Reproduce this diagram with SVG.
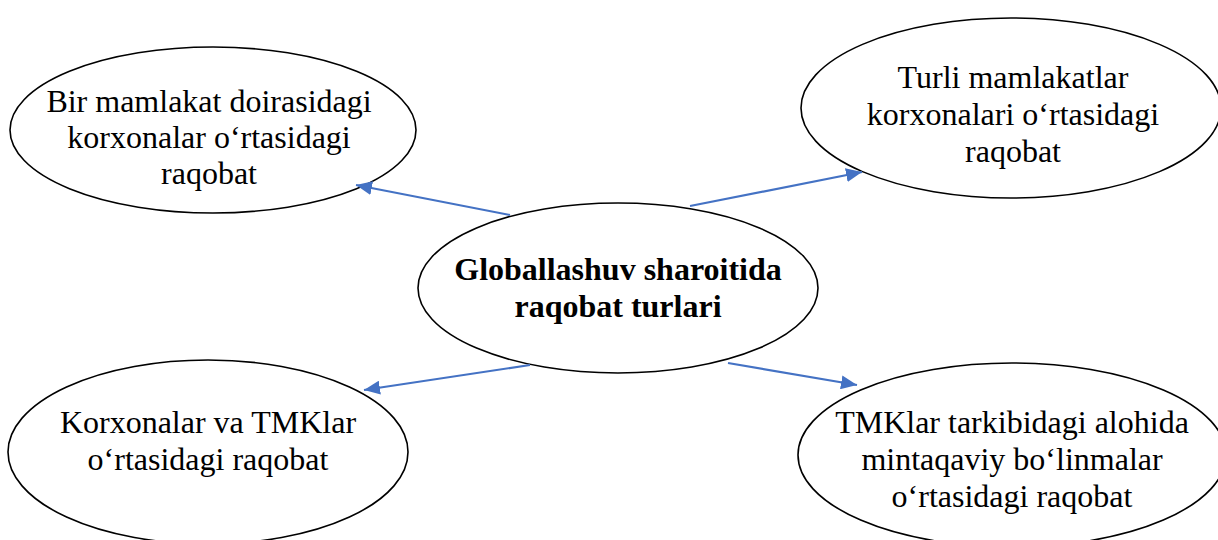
<svg xmlns="http://www.w3.org/2000/svg" width="1218" height="540" viewBox="0 0 1218 540">
<style>
.node ellipse{fill:#fff;stroke:#000;stroke-width:1.6}
.node text{font-family:"Liberation Serif","Times New Roman",serif;font-size:32px;fill:#000;text-anchor:middle}
.node text.b{font-weight:bold}
.conn line{stroke:#4472C4;stroke-width:2.2;fill:none}
</style>
<defs>
<marker id="ah" markerUnits="userSpaceOnUse" markerWidth="18" markerHeight="14" refX="16" refY="7" orient="auto">
<path d="M0,0 L16,7 L0,14 Z" fill="#4472C4"/>
</marker>
</defs>
<rect width="1218" height="540" fill="#fff"/>
<g id="n-topleft" class="node">
<ellipse cx="213" cy="130" rx="203" ry="83"/>
<text x="209" y="112">Bir mamlakat doirasidagi</text>
<text x="209" y="148">korxonalar o‘rtasidagi</text>
<text x="209" y="184">raqobat</text>
</g>
<g id="n-topright" class="node">
<ellipse cx="1011" cy="108" rx="210" ry="90"/>
<text x="1013" y="88">Turli mamlakatlar</text>
<text x="1013" y="125">korxonalari o‘rtasidagi</text>
<text x="1013" y="162">raqobat</text>
</g>
<g id="n-center" class="node">
<ellipse cx="618" cy="288" rx="200" ry="85"/>
<text class="b" x="618" y="280">Globallashuv sharoitida</text>
<text class="b" x="618" y="317">raqobat turlari</text>
</g>
<g id="n-bottomleft" class="node">
<ellipse cx="208" cy="452" rx="200" ry="92"/>
<text x="208" y="433">Korxonalar va TMKlar</text>
<text x="208" y="470">o‘rtasidagi raqobat</text>
</g>
<g id="n-bottomright" class="node">
<ellipse cx="1012" cy="455" rx="214" ry="92"/>
<text x="1012" y="433">TMKlar tarkibidagi alohida</text>
<text x="1012" y="470">mintaqaviy bo‘linmalar</text>
<text x="1012" y="507">o‘rtasidagi raqobat</text>
</g>
<g id="connectors" class="conn">
<line x1="510" y1="215" x2="356" y2="185" marker-end="url(#ah)"/>
<line x1="690" y1="206" x2="862" y2="172" marker-end="url(#ah)"/>
<line x1="530" y1="365" x2="364" y2="390" marker-end="url(#ah)"/>
<line x1="728" y1="363" x2="857" y2="385" marker-end="url(#ah)"/>
</g>
</svg>
